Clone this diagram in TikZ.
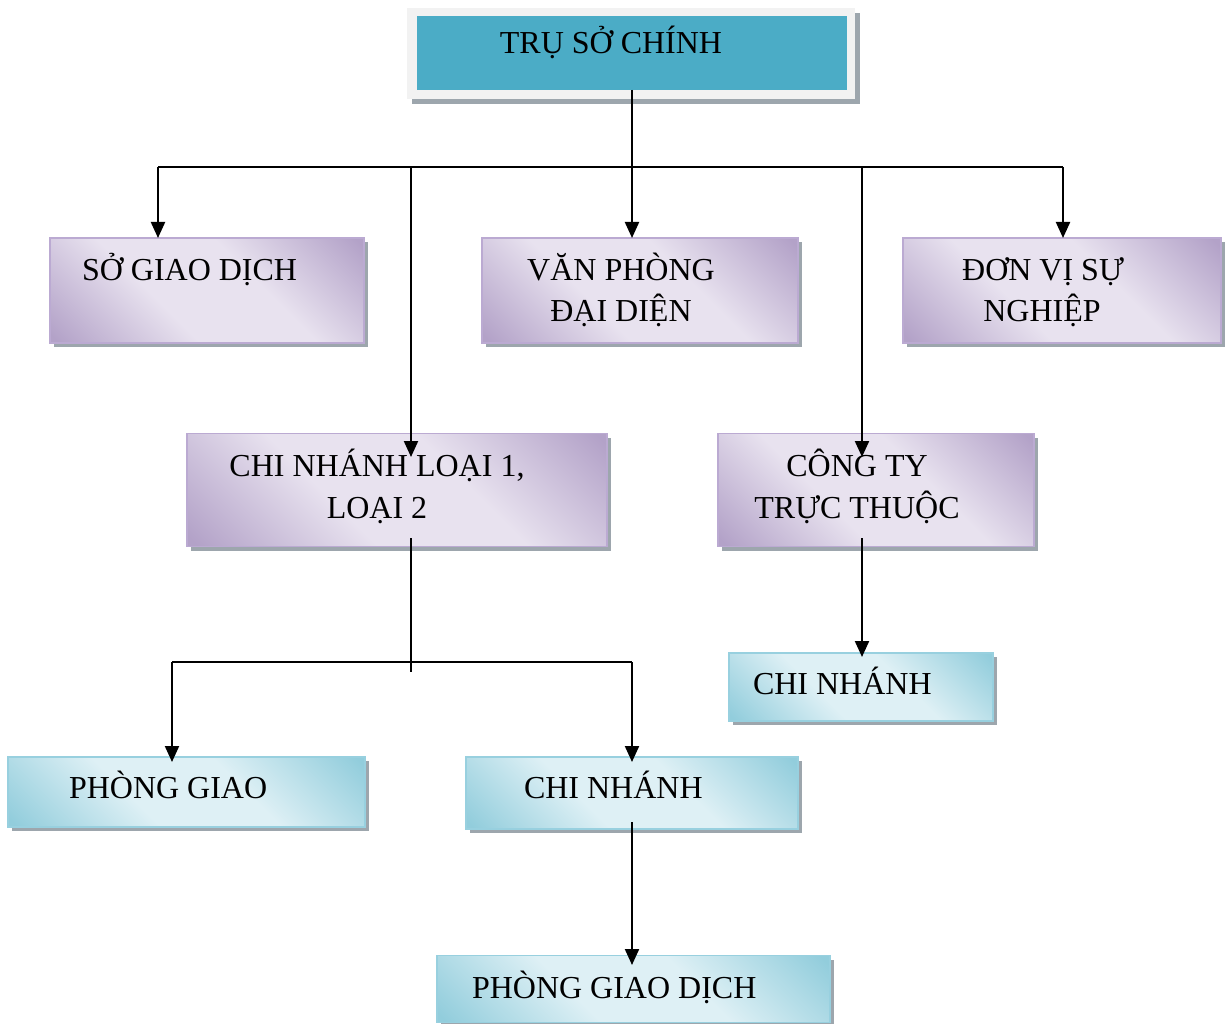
\documentclass[tikz,border=0pt]{standalone}
\usepackage{fontspec}
\setmainfont{Liberation Serif}
\usetikzlibrary{arrows.meta,shadows}
\definecolor{purD}{HTML}{B3A2C8}
\definecolor{purL}{HTML}{E8E2EF}
\definecolor{purB}{HTML}{BBAAD2}
\definecolor{teaD}{HTML}{92CDDC}
\definecolor{teaL}{HTML}{DEF0F5}
\definecolor{teaB}{HTML}{98D0DF}
\definecolor{teaTop}{HTML}{4BACC6}
\definecolor{shad}{HTML}{9DA6AD}
\definecolor{frameG}{HTML}{F2F2F2}
\pgfdeclareverticalshading{purshade}{100bp}{color(0bp)=(purD); color(16bp)=(purD); color(40bp)=(purL); color(60bp)=(purL); color(84bp)=(purD); color(100bp)=(purD)}
\pgfdeclareverticalshading{teashade}{100bp}{color(0bp)=(teaD); color(16bp)=(teaD); color(40bp)=(teaL); color(60bp)=(teaL); color(84bp)=(teaD); color(100bp)=(teaD)}
\begin{document}
\begin{tikzpicture}[x=1pt,y=-1pt,
  boxbase/.style={rectangle,inner sep=0pt,outer sep=0pt,line width=1.5pt,
    drop shadow={shadow xshift=4pt,shadow yshift=-4pt,fill=shad,opacity=1}},
  purbox/.style={boxbase,draw=purB,shading=purshade,shading angle=-45},
  teabox/.style={boxbase,draw=teaB,shading=teashade,shading angle=-45},
  txt/.style={inner sep=0pt,outer sep=0pt,font=\fontsize{32}{38}\selectfont,text=black},
  conn/.style={line width=2.1pt,black},
  arr/.style={conn,-{Triangle[width=14pt,length=16pt]}}]
\useasboundingbox (0,0) rectangle (1226,1024);

% top box
\node[rectangle,inner sep=0pt,fill=frameG,minimum width=448pt,minimum height=91pt,
  drop shadow={shadow xshift=5pt,shadow yshift=-5pt,fill=shad,opacity=1}] (topf) at (631,53.5) {};
\node[rectangle,inner sep=0pt,outer sep=0pt,fill=teaTop,minimum width=430pt,minimum height=74pt] (top) at (632,53) {};
\node[txt,anchor=base] (toptxt) at (611,54) {TRỤ SỞ CHÍNH};

% second row
\node[purbox,minimum width=314pt,minimum height=105pt] (sgd) at (207,290.5) {};
\node[txt,anchor=base west] (sgdtxt) at (82,281) {SỞ GIAO DỊCH};

\node[purbox,minimum width=316pt,minimum height=105pt] (vp) at (640,290.5) {};
\node[txt,anchor=base] (vp1) at (621,281) {VĂN PHÒNG};
\node[txt,anchor=base] (vp2) at (621,322) {ĐẠI DIỆN};

\node[purbox,minimum width=318pt,minimum height=105pt] (dv) at (1062,290.5) {};
\node[txt,anchor=base] (dv1) at (1043,281) {ĐƠN VỊ SỰ};
\node[txt,anchor=base] (dv2) at (1042,322) {NGHIỆP};

% third row
\node[purbox,minimum width=420pt,minimum height=113pt] (cn1) at (397,490) {};
\node[txt,anchor=base] (cn1a) at (377,476) {CHI NHÁNH LOẠI 1,};
\node[txt,anchor=base] (cn1b) at (377,518) {LOẠI 2};

\node[purbox,minimum width=316pt,minimum height=113pt] (ct) at (876,490) {};
\node[txt,anchor=base] (ct1) at (857,476) {CÔNG TY};
\node[txt,anchor=base] (ct2) at (857,518) {TRỰC THUỘC};

% lower boxes
\node[teabox,minimum width=264pt,minimum height=68pt] (cnr) at (861,687) {};
\node[txt,anchor=base west] (cnrtxt) at (753,694) {CHI NHÁNH};

\node[teabox,minimum width=357pt,minimum height=70pt] (pg) at (186.5,792) {};
\node[txt,anchor=base west] (pgtxt) at (69,798) {PHÒNG GIAO};

\node[teabox,minimum width=332pt,minimum height=72pt] (cnm) at (632,793) {};
\node[txt,anchor=base west] (cnmtxt) at (524,798) {CHI NHÁNH};

\node[teabox,minimum width=393pt,minimum height=67pt] (pgd) at (633.5,989) {};
\node[txt,anchor=base west] (pgdtxt) at (472,998) {PHÒNG GIAO DỊCH};

% connectors
\coordinate (jL) at (158,167);
\coordinate (jA) at (411,167);
\coordinate (jB) at (862,167);
\coordinate (jR) at (1063,167);
\coordinate (tA) at (411,457);
\coordinate (tB) at (862,457);
\draw[conn] (jL) -- (jR);
\draw[arr] (top.south) -- (top.south |- vp.north);
\draw[arr] (jL) -- (jL |- sgd.north);
\draw[arr] (jA) -- (tA);
\draw[arr] (jB) -- (tB);
\draw[arr] (jR) -- (jR |- dv.north);

\coordinate (s1) at (411,538);
\coordinate (s1e) at (411,672);
\coordinate (h1) at (172,662);
\coordinate (h2) at (632,662);
\coordinate (pgt) at (172,762);
\coordinate (cnmt) at (632,762);
\draw[conn] (s1) -- (s1e);
\draw[conn] (h1) -- (h2);
\draw[arr] (h1) -- (pgt);
\draw[arr] (h2) -- (cnmt);

\coordinate (s2) at (862,538);
\coordinate (cnrt) at (862,657);
\draw[arr] (s2) -- (cnrt);

\coordinate (s3) at (632,822);
\coordinate (pgdt) at (632,965);
\draw[arr] (s3) -- (pgdt);
\end{tikzpicture}
\end{document}
